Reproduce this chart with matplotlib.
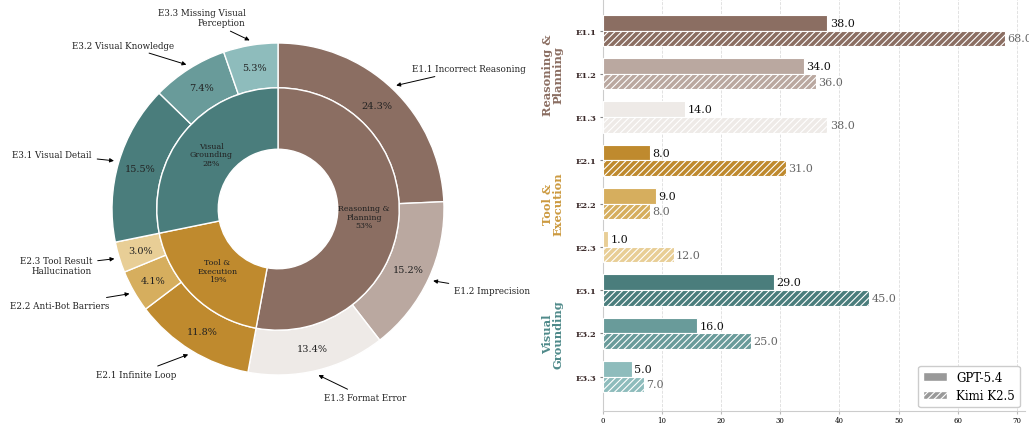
import numpy as np
import matplotlib
matplotlib.use("Agg")
import matplotlib.pyplot as plt
from matplotlib.patches import Patch

plt.rcParams["font.family"] = "DejaVu Serif"
plt.rcParams["hatch.linewidth"] = 0.8

# ── Data ──────────────────────────────────────────────────────────────────────
codes     = ["E1.1", "E1.2", "E1.3", "E2.1", "E2.2", "E2.3", "E3.1", "E3.2", "E3.3"]
names     = ["Incorrect Reasoning", "Imprecision", "Format Error",
             "Infinite Loop", "Anti-Bot Barriers", "Tool Result\nHallucination",
             "Visual Detail", "Visual Knowledge", "Missing Visual\nPerception"]
pie_pct   = [24.3, 15.2, 13.4, 11.8, 4.1, 3.0, 15.5, 7.4, 5.3]
groups    = ["Reasoning &\nPlanning", "Tool &\nExecution", "Visual\nGrounding"]
gpt54     = [38, 34, 14, 8, 9, 1, 29, 16, 5]
kimi_k25  = [68, 36, 38, 31, 8, 12, 45, 25, 7]

sub_colors   = ["#8B6E62", "#BAA8A0", "#EEEAE7",
                "#BF8A2E", "#D6AE5E", "#E8CE96",
                "#4A7D7C", "#699B9A", "#8EBCBC"]
group_colors = ["#8B6E62", "#BF8A2E", "#4A7D7C"]
label_colors = ["#8B6E62", "#CC9A40", "#4F8A8A"]

W, H = 1029, 427
fig = plt.figure(figsize=(W / 100, H / 100), dpi=100)

# ── Left: nested donut ───────────────────────────────────────────────────────
R_PX, CX, CY = 166, 278, 210
K = 1.3
ax1 = fig.add_axes([(CX - R_PX * K) / W, (H - CY - R_PX * K) / H,
                    2 * R_PX * K / W, 2 * R_PX * K / H])

group_vals = [sum(pie_pct[0:3]), sum(pie_pct[3:6]), sum(pie_pct[6:9])]

outer, _ = ax1.pie(pie_pct, radius=1.0, startangle=90, counterclock=False,
                   colors=sub_colors,
                   wedgeprops=dict(width=0.27, edgecolor="white", linewidth=1))
inner, _ = ax1.pie(group_vals, radius=0.73, startangle=90, counterclock=False,
                   colors=group_colors,
                   wedgeprops=dict(width=0.37, edgecolor="white", linewidth=1))
ax1.set_xlim(-K, K)
ax1.set_ylim(-K, K)
ax1.set_aspect("equal")
ax1.axis("off")

for w, pct, code, name in zip(outer, pie_pct, codes, names):
    ang = np.deg2rad((w.theta1 + w.theta2) / 2)
    c, s = np.cos(ang), np.sin(ang)
    ax1.text(0.865 * c, 0.865 * s, f"{pct:.1f}%", ha="center", va="center",
             fontsize=7, color="#222222")
    ha = "left" if c > 0 else "right"
    ax1.annotate(f"{code} {name}", xy=(1.03 * c, 1.03 * s),
                 xytext=(1.17 * c, 1.17 * s), ha=ha, va="center",
                 multialignment=ha, fontsize=6.3, color="#222222",
                 arrowprops=dict(arrowstyle="-|>", color="black", lw=0.7,
                                 mutation_scale=6, shrinkA=2, shrinkB=0),
                 annotation_clip=False)

for w, g, v in zip(inner, groups, group_vals):
    ang = np.deg2rad((w.theta1 + w.theta2) / 2)
    ax1.text(0.52 * np.cos(ang), 0.52 * np.sin(ang), f"{g}\n{v:.0f}%",
             ha="center", va="center", fontsize=5.7, color="#222222",
             linespacing=1.1)

# ── Right: horizontal bars ───────────────────────────────────────────────────
ax2 = fig.add_axes([602.5 / W, (H - 411.7) / H, 422.7 / W, 411.7 / H])
y = np.arange(len(codes))
bh = 0.36
ax2.barh(y - bh / 2, gpt54, height=bh, color=sub_colors,
         edgecolor="white", linewidth=0.8, zorder=3)
ax2.barh(y + bh / 2, kimi_k25, height=bh, color=sub_colors,
         edgecolor="white", linewidth=0.8, hatch="/////", zorder=3)

for yi, g, k in zip(y, gpt54, kimi_k25):
    ax2.text(g + 0.4, yi - bh / 2, f"{g:.1f}", va="center", fontsize=8,
             color="#111111", zorder=4)
    ax2.text(k + 0.4, yi + bh / 2, f"{k:.1f}", va="center", fontsize=8,
             color="#666666", zorder=4)

ax2.set_yticks(y)
ax2.set_yticklabels(codes, fontsize=6, fontweight="bold", color="#3b2a2a")
ax2.set_ylim(8.79, -0.73)
ax2.set_xlim(0, max(kimi_k25) * 1.05)
ax2.set_xticks(np.arange(0, 71, 10))
ax2.tick_params(axis="x", labelsize=5, length=2, color="#bbbbbb", pad=2)
ax2.tick_params(axis="y", length=2.5, color="#888888", pad=2)
ax2.grid(axis="x", linestyle="--", color="#dddddd", linewidth=0.6, zorder=0)
for sp in ["top", "right"]:
    ax2.spines[sp].set_visible(False)
for sp in ["left", "bottom"]:
    ax2.spines[sp].set_color("#cccccc")
    ax2.spines[sp].set_linewidth(0.8)

trans = ax2.get_yaxis_transform()
for i, (g, col) in enumerate(zip(groups, label_colors)):
    ax2.text(-0.118, 3 * i + 1, g, transform=trans, rotation=90,
             ha="center", va="center", multialignment="center",
             fontsize=8.2, fontweight="bold", color=col, linespacing=1.0)

handles = [Patch(facecolor="#999999", edgecolor="white", label="GPT-5.4"),
           Patch(facecolor="#999999", edgecolor="white", hatch="/////",
                 label="Kimi K2.5")]
leg = ax2.legend(handles=handles, loc="lower right", fontsize=8.5,
                 bbox_to_anchor=(0.995, 0.0), borderaxespad=0.3,
                 framealpha=1, edgecolor="#cccccc")

fig.savefig("out.png", dpi=100)
